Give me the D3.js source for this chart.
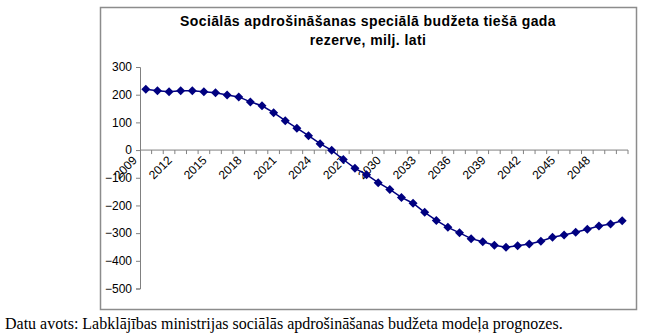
<!DOCTYPE html>
<html><head><meta charset="utf-8">
<script src="https://cdn.jsdelivr.net/npm/d3@7"></script>
<style>body{margin:0;background:#fff;}svg{display:block;}</style>
</head><body>
<svg id="c" width="650" height="335"></svg>
<script>
const years = d3.range(2009, 2051);
const values = [220,214,211,214,214,211,207,199,192,174,160,135,106,79,52,23,-1,-34,-66,-89,-118,-142,-171,-192,-225,-254,-279,-299,-320,-331,-344,-351,-346,-339,-329,-315,-307,-297,-286,-274,-267,-255];
const yTicks = [300,200,100,0,-100,-200,-300,-400,-500];
const xLabelYears = years.filter((y,i)=>i%3===0);
const titleLines = ["Sociālās apdrošināšanas speciālā budžeta tiešā gada","rezerve, milj. lati"];
const footer = "Datu avots: Labklājības ministrijas sociālās apdrošināšanas budžeta modeļa prognozes.";

const svg = d3.select("#c");
// chart border
svg.append("rect").attr("x",100.5).attr("y",7.5).attr("width",536).attr("height",302)
  .attr("fill","#fff").attr("stroke","#8c8c8c").attr("stroke-width",1.5);

const x = d3.scaleBand().domain(years).range([140,628]);
const y = d3.scaleLinear().domain([-500,300]).range([288.5,67]);

// title
titleLines.forEach((t,i)=>{
  svg.append("text").attr("x",368).attr("y",26+i*19).attr("text-anchor","middle")
    .attr("font-family","Liberation Sans, Arial, sans-serif").attr("font-weight","bold")
    .attr("font-size",14).attr("letter-spacing",0.4).attr("fill","#000").text(t);
});

// y axis
const yAxis = d3.axisLeft(y).tickValues(yTicks).tickSize(4).tickPadding(4);
const gy = svg.append("g").attr("transform","translate(140,0)").call(yAxis);
gy.select(".domain").attr("stroke","#808080");
gy.selectAll(".tick line").attr("stroke","#808080");
gy.selectAll("text").attr("font-family","Liberation Sans, Arial, sans-serif").attr("font-size",12).attr("fill","#000");

// x axis at zero
const y0 = y(0);
const gx = svg.append("g").attr("transform",`translate(0,${y0})`);
gx.append("line").attr("x1",140).attr("x2",628).attr("y1",0).attr("y2",0).attr("stroke","#808080");
years.forEach((yr,i)=>{
  const bx = x(yr)+x.bandwidth();
  gx.append("line").attr("x1",bx).attr("x2",bx).attr("y1",0).attr("y2",4).attr("stroke","#808080");
});
xLabelYears.forEach(yr=>{
  const cx = x(yr)+x.bandwidth()/2;
  gx.append("text").attr("transform",`translate(${cx-8},${11}) rotate(-45)`)
    .attr("text-anchor","end")
    .attr("font-family","Liberation Sans, Arial, sans-serif").attr("font-size",12).attr("fill","#000")
    .text(yr);
});

// line
const line = d3.line().x((d,i)=>x(years[i])+x.bandwidth()/2).y(d=>y(d));
svg.append("path").datum(values).attr("d",line).attr("fill","none").attr("stroke","#000080").attr("stroke-width",1.5);
svg.selectAll(".pt").data(values).enter().append("path")
  .attr("transform",(d,i)=>`translate(${x(years[i])+x.bandwidth()/2},${y(d)})`)
  .attr("d","M0,-4.5L4.5,0L0,4.5L-4.5,0Z").attr("fill","#000080");

// footer
svg.append("text").attr("x",5).attr("y",329).attr("font-family","Liberation Serif, Times New Roman, serif")
  .attr("font-size",16).attr("fill","#000").text(footer);
</script>
</body></html>
